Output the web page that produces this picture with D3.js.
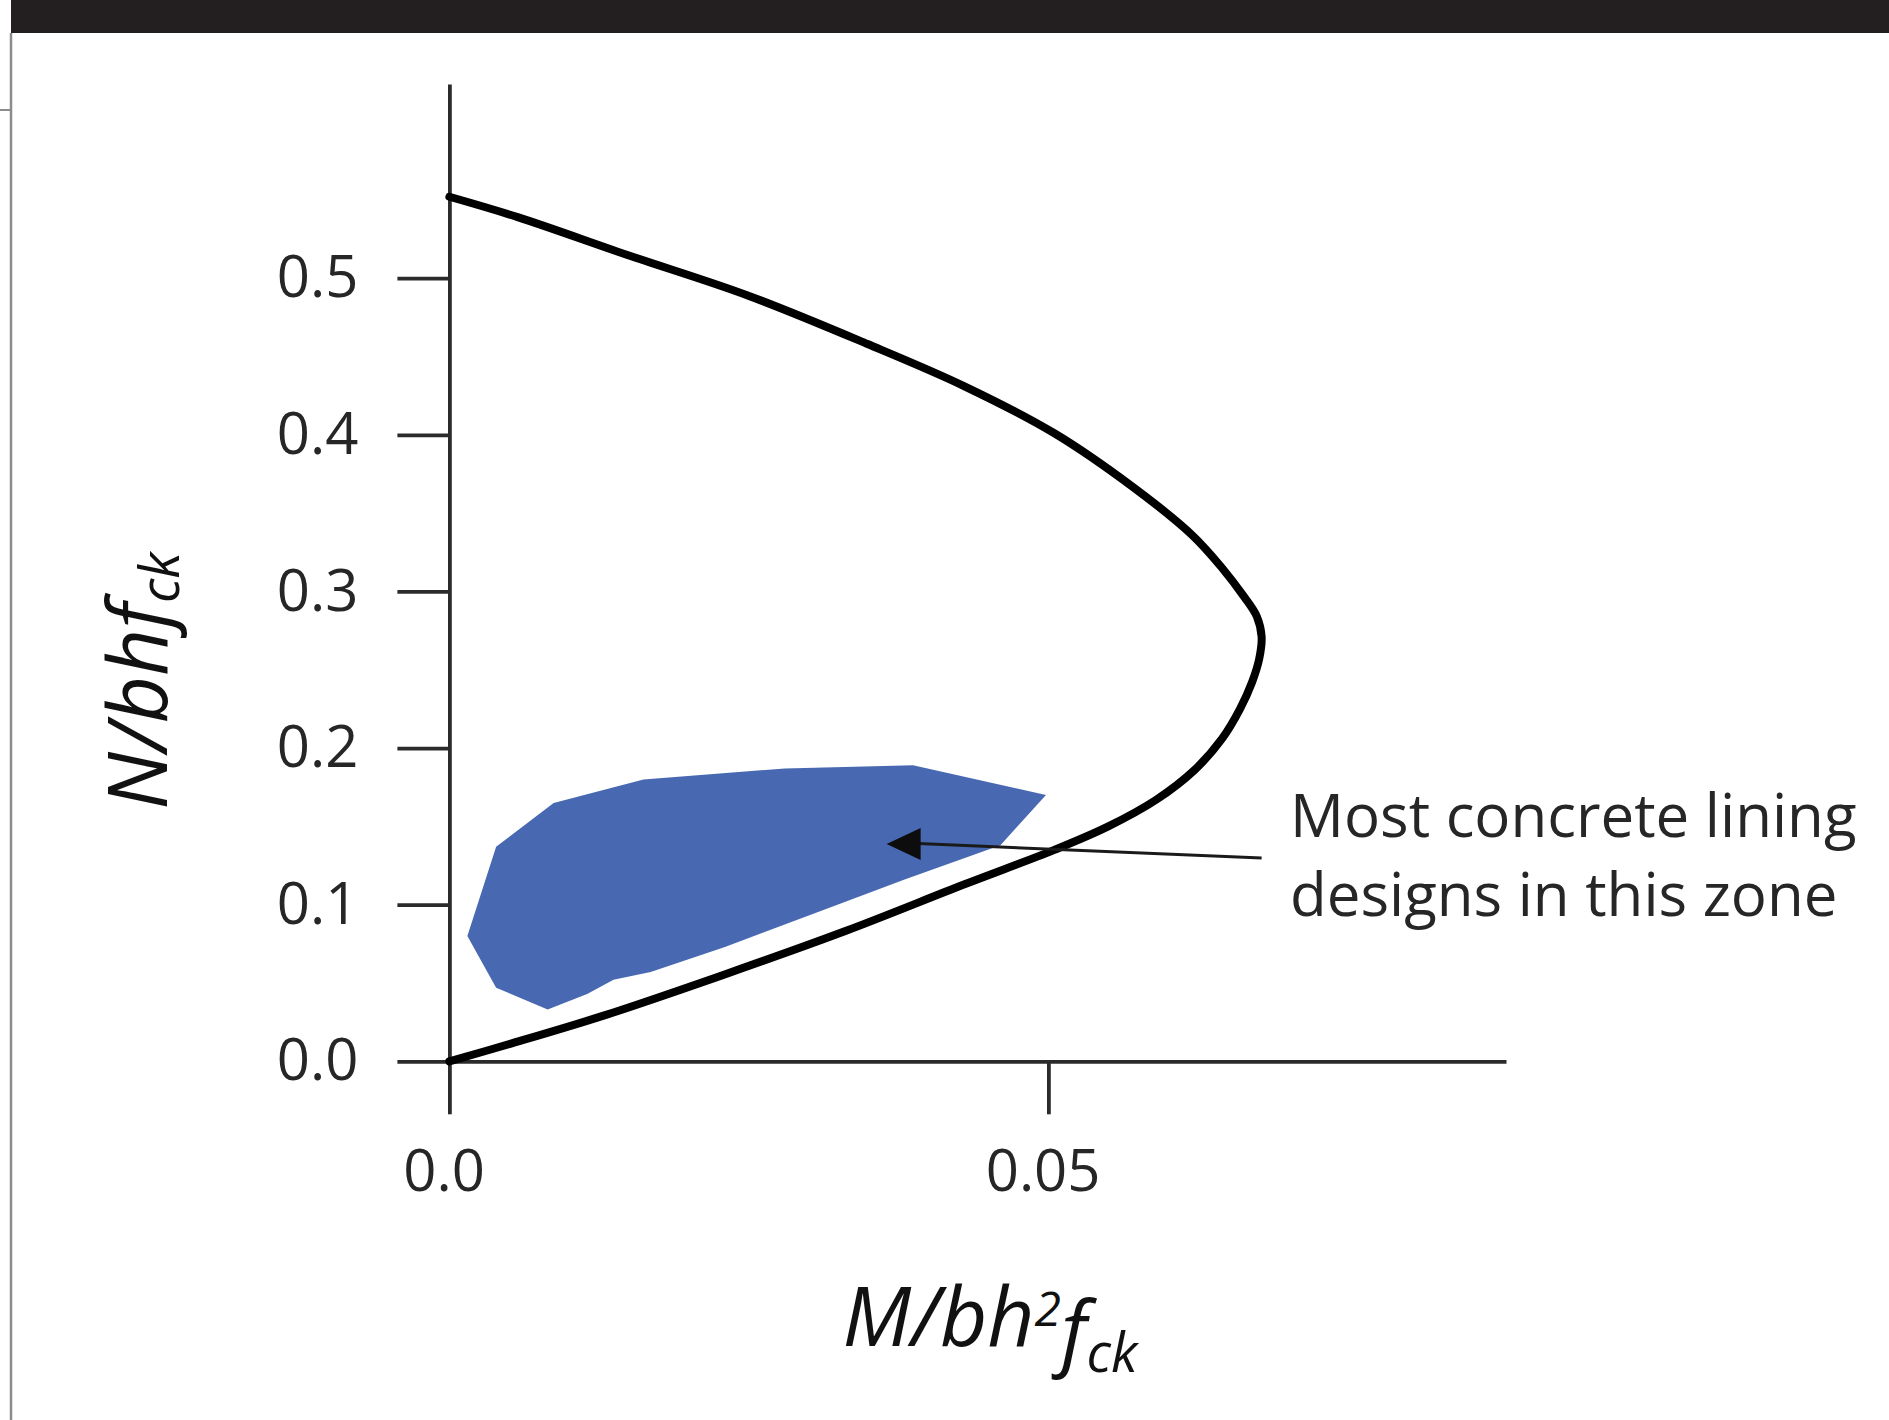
<!DOCTYPE html>
<html>
<head>
<meta charset="utf-8">
<script src="https://cdn.jsdelivr.net/npm/d3@7"></script>
<style>
  html, body { margin: 0; padding: 0; background: #ffffff; }
  svg { display: block; }
</style>
</head>
<body>
<script>
// ---------------- data ----------------
// Interaction diagram boundary (M/bh²fck, N/bhfck), traced from top (on N axis) round to origin
const curveM = [0.0000, 0.0057, 0.0148, 0.0249, 0.0349, 0.0430, 0.0505, 0.0570, 0.0620, 0.0645, 0.0663, 0.0674, 0.0678,
                0.0676, 0.0670, 0.0660, 0.0645, 0.0622, 0.0590, 0.0550, 0.0505, 0.0430, 0.0330, 0.0228, 0.0128, 0.0050, 0.0000];
const curveN = [0.552, 0.539, 0.515, 0.489, 0.458, 0.431, 0.401, 0.367, 0.336, 0.315, 0.297, 0.284, 0.271,
                0.257, 0.242, 0.225, 0.206, 0.186, 0.167, 0.150, 0.135, 0.113, 0.083, 0.055, 0.029, 0.011, 0.000];

// Zone of most concrete lining designs (polygon)
const zoneM = [0.0015, 0.0039, 0.0087, 0.0162, 0.0280, 0.0387, 0.0498, 0.0460, 0.0380, 0.0310, 0.0230, 0.0168, 0.0137, 0.0115, 0.0082, 0.0039];
const zoneN = [0.080, 0.137, 0.165, 0.180, 0.187, 0.189, 0.170, 0.138, 0.116, 0.096, 0.073, 0.057, 0.052, 0.043, 0.033, 0.047];

// Axis ticks
const yTicks = [0.0, 0.1, 0.2, 0.3, 0.4, 0.5];
const yTickLabels = ["0.0", "0.1", "0.2", "0.3", "0.4", "0.5"];
const xTicks = [0.0, 0.05];
const xTickLabels = ["0.0", "0.05"];
const xMax = 0.0882, yMax = 0.624;

// Annotation (arrow from text into zone)
const arrowFrom = [0.0678, 0.1298];
const arrowTo = [0.0365, 0.1388];
const noteLines = ["Most concrete lining", "designs in this zone"];

// ---------------- drawing ----------------
const W = 1889, H = 1420;
const svg = d3.select("body").append("svg").attr("width", W).attr("height", H);
svg.append("rect").attr("width", W).attr("height", H).attr("fill", "#ffffff");

// top dark band and left page border
svg.append("rect").attr("x", 11).attr("y", 0).attr("width", W - 11).attr("height", 33).attr("fill", "#231f20");
svg.append("line").attr("x1", 11).attr("x2", 11).attr("y1", 33).attr("y2", H)
   .attr("stroke", "#8c8c8c").attr("stroke-width", 2.5);
svg.append("line").attr("x1", 0).attr("x2", 11).attr("y1", 110).attr("y2", 110)
   .attr("stroke", "#8c8c8c").attr("stroke-width", 2);

const x = d3.scaleLinear().domain([0, xMax]).range([449.4, 1506]);
const y = d3.scaleLinear().domain([0, yMax]).range([1061.3, 84]);

const tickFont = "'Open Sans', sans-serif";
const axisColor = "#2b2b2b";

// zone polygon
const zone = zoneM.map((m, i) => [x(m), y(zoneN[i])]);
svg.append("path")
  .attr("d", d3.line().curve(d3.curveLinearClosed)(zone))
  .attr("fill", "#4869b1");

// Y axis
const yAxis = svg.append("g").attr("transform", `translate(${x(0)},0)`)
  .call(d3.axisLeft(y).tickValues(yTicks).tickSize(52).tickSizeOuter(0).tickPadding(39)
        .tickFormat((d, i) => yTickLabels[i]));
// X axis
const xAxis = svg.append("g").attr("transform", `translate(0,${y(0)})`)
  .call(d3.axisBottom(x).tickValues(xTicks).tickSize(53).tickSizeOuter(0).tickPadding(36)
        .tickFormat((d, i) => xTickLabels[i]));

[yAxis, xAxis].forEach(g => {
  g.selectAll("path.domain").attr("stroke", axisColor).attr("stroke-width", 3.8);
  g.selectAll(".tick line").attr("stroke", axisColor).attr("stroke-width", 3.8);
  g.selectAll(".tick text").attr("fill", "#262626").style("font-family", tickFont).style("font-size", "58px");
});
xAxis.selectAll(".tick text").attr("dx", "-0.1em");

// interaction curve
const pts = curveM.map((m, i) => [x(m), y(curveN[i])]);
svg.append("path")
  .attr("d", d3.line().curve(d3.curveCatmullRom.alpha(0.5))(pts))
  .attr("fill", "none").attr("stroke", "#000000").attr("stroke-width", 8)
  .attr("stroke-linecap", "round");

// arrow
svg.append("line")
  .attr("x1", x(arrowFrom[0])).attr("y1", y(arrowFrom[1]))
  .attr("x2", x(arrowTo[0]) + 20).attr("y2", y(arrowTo[1]) - 0.8)
  .attr("stroke", "#1a1a1a").attr("stroke-width", 3);
svg.append("path")
  .attr("d", `M${x(arrowTo[0]) + 34},${y(arrowTo[1]) - 16} L${x(arrowTo[0])},${y(arrowTo[1])} L${x(arrowTo[0]) + 34},${y(arrowTo[1]) + 16} Z`)
  .attr("fill", "#0d0d0d");

// annotation text
const note = svg.append("text").attr("x", 1290).attr("y", 837)
  .style("font-family", tickFont).style("font-size", "60px").attr("fill", "#262626");
noteLines.forEach((t, i) => {
  note.append("tspan").attr("x", 1290).attr("y", 837 + i * 79).text(t);
});

// axis titles
const labFont = "'Open Sans', sans-serif";
const xt = svg.append("text").attr("x", 990).attr("y", 1346).attr("text-anchor", "middle")
  .style("font-family", labFont).style("font-style", "italic").style("font-size", "82px").attr("fill", "#111111");
xt.append("tspan").text("M/bh");
xt.append("tspan").attr("dy", "-0.42em").style("font-size", "48px").text("2");
xt.append("tspan").attr("dy", "0.42em").text("f");
xt.append("tspan").attr("dy", "0.22em").style("font-size", "54px").text("ck");

const yt = svg.append("text").attr("transform", "translate(167,681) rotate(-90)").attr("text-anchor", "middle")
  .style("font-family", labFont).style("font-style", "italic").style("font-size", "82px").attr("fill", "#111111");
yt.append("tspan").text("N/bhf");
yt.append("tspan").attr("dy", "0.22em").style("font-size", "54px").text("ck");
</script>
</body>
</html>
